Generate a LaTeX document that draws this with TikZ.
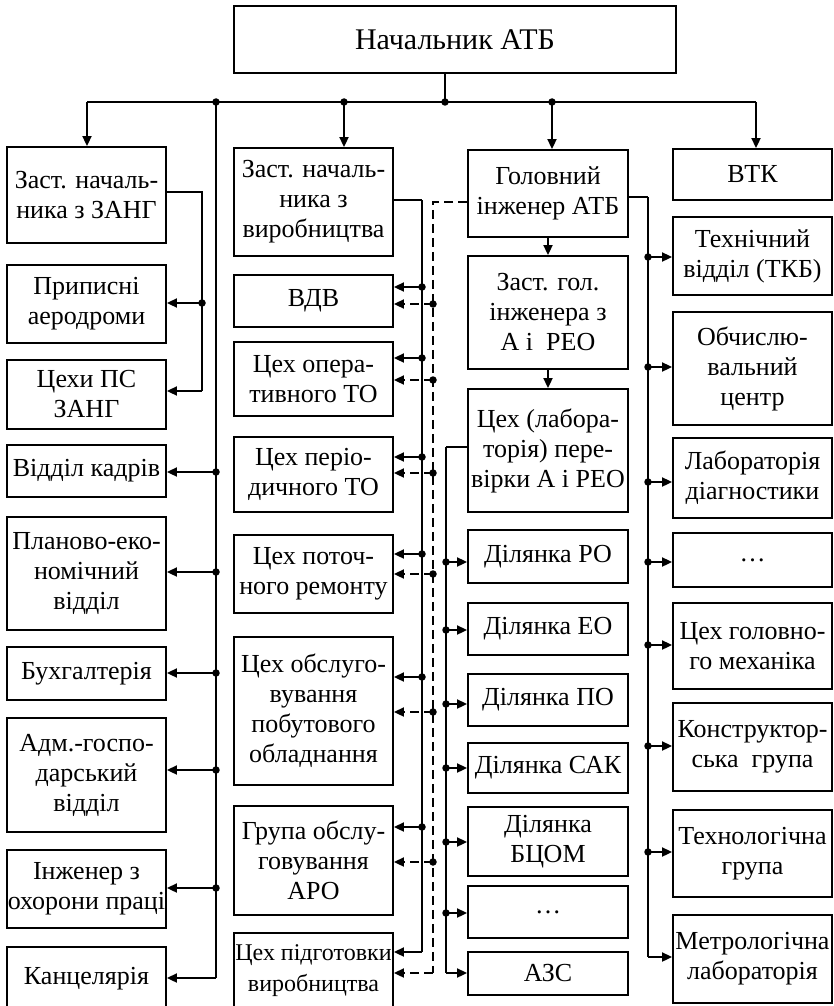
\documentclass[tikz,border=0pt]{standalone}
\usepackage{fontspec}
\setmainfont{Liberation Serif}
\usetikzlibrary{arrows.meta}
\begin{document}
\begin{tikzpicture}[x=1pt,y=-1pt,
  box/.style={draw, line width=1.9pt, inner sep=0pt, align=center,
    font=\fontsize{26}{30}\selectfont, minimum width=159pt},
  ln/.style={line width=2pt},
  thinln/.style={line width=1.3pt},
  arr/.style={line width=2pt, -{Triangle[length=10pt,width=9pt]}},
  dashln/.style={line width=2pt, dash pattern=on 9pt off 5pt},
  darr/.style={arr, dash pattern=on 9pt off 5pt},
  dot/.style={circle, fill, inner sep=0pt, minimum size=7.5pt}]
\useasboundingbox (0,0) rectangle (833,1006);

% ---------- top ----------
\node[box, minimum width=442pt, minimum height=67pt, font=\fontsize{30}{34}\selectfont] (nach) at (455,39.5) {Начальник АТБ};

% ---------- column 1 ----------
\node[box, minimum height=96pt]  (zang) at (86.5,195)   {Заст. началь-\\ника з ЗАНГ};
\node[box, minimum height=78pt]  (pryp) at (86.5,304)   {Приписні\\аеродроми};
\node[box, minimum height=69pt]  (tsps) at (86.5,394.5) {Цехи ПС\\ЗАНГ};
\node[box, minimum height=52pt]  (kadr) at (86.5,471)   {Відділ кадрів};
\node[box, minimum height=113pt] (plan) at (86.5,573.5) {Планово-еко-\\номічний\\відділ};
\node[box, minimum height=53pt]  (bukh) at (86.5,673.5) {Бухгалтерія};
\node[box, minimum height=114pt] (adm)  at (86.5,775)   {Адм.-госпо-\\дарський\\відділ};
\node[box, minimum height=78pt]  (inzh) at (86.5,889)   {Інженер з\\охорони праці};
\node[box, minimum height=64pt]  (kanc) at (86.5,979)   {Канцелярія};

% ---------- column 2 ----------
\node[box, minimum height=108pt] (zvyr) at (313.5,202)   {Заст. началь-\\ника з\\виробництва};
\node[box, minimum height=52pt]  (vdv)  at (313.5,301)   {ВДВ};
\node[box, minimum height=74pt]  (oper) at (313.5,379)   {Цех опера-\\тивного ТО};
\node[box, minimum height=75pt]  (per)  at (313.5,474.5) {Цех періо-\\дичного ТО};
\node[box, minimum height=78pt]  (pot)  at (313.5,574)   {Цех поточ-\\ного ремонту};
\node[box, minimum height=148pt] (obsl) at (313.5,711)   {Цех обслуго-\\вування\\побутового\\обладнання};
\node[box, minimum height=109pt] (aro)  at (313.5,860.5) {Група обслу-\\говування\\АРО};
\node[box, minimum height=76pt, font=\fontsize{24}{31}\selectfont] (pidh) at (313.5,971) {Цех підготовки\\виробництва};

% ---------- column 3 ----------
\node[box, minimum width=160pt, minimum height=87pt]  (holov) at (548,193.5) {Головний\\інженер АТБ};
\node[box, minimum width=160pt, minimum height=113pt] (zgol)  at (548,312.5) {Заст. гол.\\інженера з\\А і\ \ РЕО};
\node[box, minimum width=160pt, minimum height=123pt] (lab)   at (548,450.5) {Цех (лабора-\\торія) пере-\\вірки А і РЕО};
\node[box, minimum width=160pt, minimum height=53pt]  (ro)    at (548,556.5) {Ділянка РО};
\node[box, minimum width=160pt, minimum height=52pt]  (eo)    at (548,629)   {Ділянка ЕО};
\node[box, minimum width=160pt, minimum height=52pt]  (po)    at (548,700)   {Ділянка ПО};
\node[box, minimum width=160pt, minimum height=50pt]  (sak)   at (548,768)   {Ділянка САК};
\node[box, minimum width=160pt, minimum height=69pt]  (btsom) at (548,841.5) {Ділянка\\БЦОМ};
\node[box, minimum width=160pt, minimum height=52pt]  (dotsc) at (548,912)   {…};
\node[box, minimum width=160pt, minimum height=43pt]  (azs)   at (548,973.5) {АЗС};

% ---------- column 4 ----------
\node[box, minimum height=51pt]  (vtk)   at (752.5,174.5) {ВТК};
\node[box, minimum height=78pt]  (tekh)  at (752.5,256)   {Технічний\\відділ (ТКБ)};
\node[box, minimum height=113pt] (obch)  at (752.5,368.5) {Обчислю-\\вальний\\центр};
\node[box, minimum height=80pt]  (ldiag) at (752.5,478)   {Лабораторія\\діагностики};
\node[box, minimum height=54pt]  (dotsd) at (752.5,560)   {…};
\node[box, minimum height=86pt]  (tgm)   at (752.5,646)   {Цех головно-\\го механіка};
\node[box, minimum height=88pt]  (konst) at (752.5,747)   {Конструктор-\\ська\ \ група};
\node[box, minimum height=87pt]  (tekhn) at (752.5,853.5) {Технологічна\\група};
\node[box, minimum height=88pt]  (metr)  at (752.5,959)   {Метрологічна\\лабораторія};

% ---------- top bus ----------
\coordinate (busL) at (87,102);
\coordinate (busR) at (756,102);
\node[dot] (dstem) at (445,102) {};
\node[dot] (dA) at (216,102) {};
\node[dot] (dB) at (344,102) {};
\node[dot] (dC) at (552,102) {};
\draw[ln] (dstem.center |- nach.south) -- (dstem.center);
\draw[ln] (busL) -- (busR);
\draw[arr] (busL) -- (busL |- zang.north);
\draw[arr] (dB.center) -- (dB.center |- zvyr.north);
\draw[arr] (dC.center) -- (dC.center |- holov.north);
\draw[arr] (busR) -- (busR |- vtk.north);

% ---------- column 1 connectors ----------
\coordinate (lend) at (216,978);
\draw[ln] (dA.center) -- (lend);
\draw[arr] (lend) -- (lend -| kanc.east);
\foreach \nm/\yy in {kadr/472, plan/572, bukh/673, adm/770, inzh/888} {
  \node[dot] (dl\nm) at (216,\yy) {};
  \draw[arr] (dl\nm.center) -- (dl\nm.center -| \nm.east);
}
\coordinate (zc) at (202,192);
\coordinate (zb) at (202,391);
\draw[ln] (zang.east |- zc) -- (zc) -- (zb);
\draw[arr] (zb) -- (zb -| tsps.east);
\node[dot] (zd) at (202,303) {};
\draw[arr] (zd.center) -- (zd.center -| pryp.east);

% ---------- column 2 connectors ----------
\coordinate (sc) at (422,200);
\coordinate (sb) at (422,952);
\draw[thinln] (zvyr.east |- sc) -- (sc);
\draw[ln] (sc) -- (sb);
\draw[arr] (sb) -- (sb -| pidh.east);
\foreach \nm/\yy in {vdv/287, oper/358, per/457, pot/554, obsl/677, aro/827} {
  \node[dot] (ds\nm) at (422,\yy) {};
  \draw[arr] (ds\nm.center) -- (ds\nm.center -| \nm.east);
}
\coordinate (dc) at (433,202);
\coordinate (db) at (433,973);
\draw[dashln] (holov.west |- dc) -- (dc) -- (db);
\draw[darr] (db) -- (db -| pidh.east);
\foreach \nm/\yy in {vdv/304, oper/380, per/473, pot/574, obsl/712, aro/862} {
  \node[dot] (dd\nm) at (433,\yy) {};
  \draw[darr] (dd\nm.center) -- (dd\nm.center -| \nm.east);
}

% ---------- column 3 connectors ----------
\draw[arr] (holov.south) -- (zgol.north);
\draw[arr] (zgol.south) -- (lab.north);
\coordinate (lc) at (446,447);
\coordinate (lb) at (446,973);
\draw[thinln] (lab.west |- lc) -- (lc);
\draw[ln] (lc) -- (lb);
\draw[arr] (lb) -- (lb -| azs.west);
\foreach \nm/\yy in {ro/562, eo/630, po/704, sak/768, btsom/842, dotsc/913} {
  \node[dot] (dr\nm) at (446,\yy) {};
  \draw[arr] (dr\nm.center) -- (dr\nm.center -| \nm.west);
}

% ---------- column 4 connectors ----------
\coordinate (rc) at (648,197);
\coordinate (rb) at (648,957);
\draw[thinln] (holov.east |- rc) -- (rc);
\draw[ln] (rc) -- (rb);
\draw[arr] (rb) -- (rb -| metr.west);
\foreach \nm/\yy in {tekh/257, obch/367, ldiag/482, dotsd/562, tgm/645, konst/746, tekhn/852} {
  \node[dot] (dq\nm) at (648,\yy) {};
  \draw[arr] (dq\nm.center) -- (dq\nm.center -| \nm.west);
}
\end{tikzpicture}
\end{document}
